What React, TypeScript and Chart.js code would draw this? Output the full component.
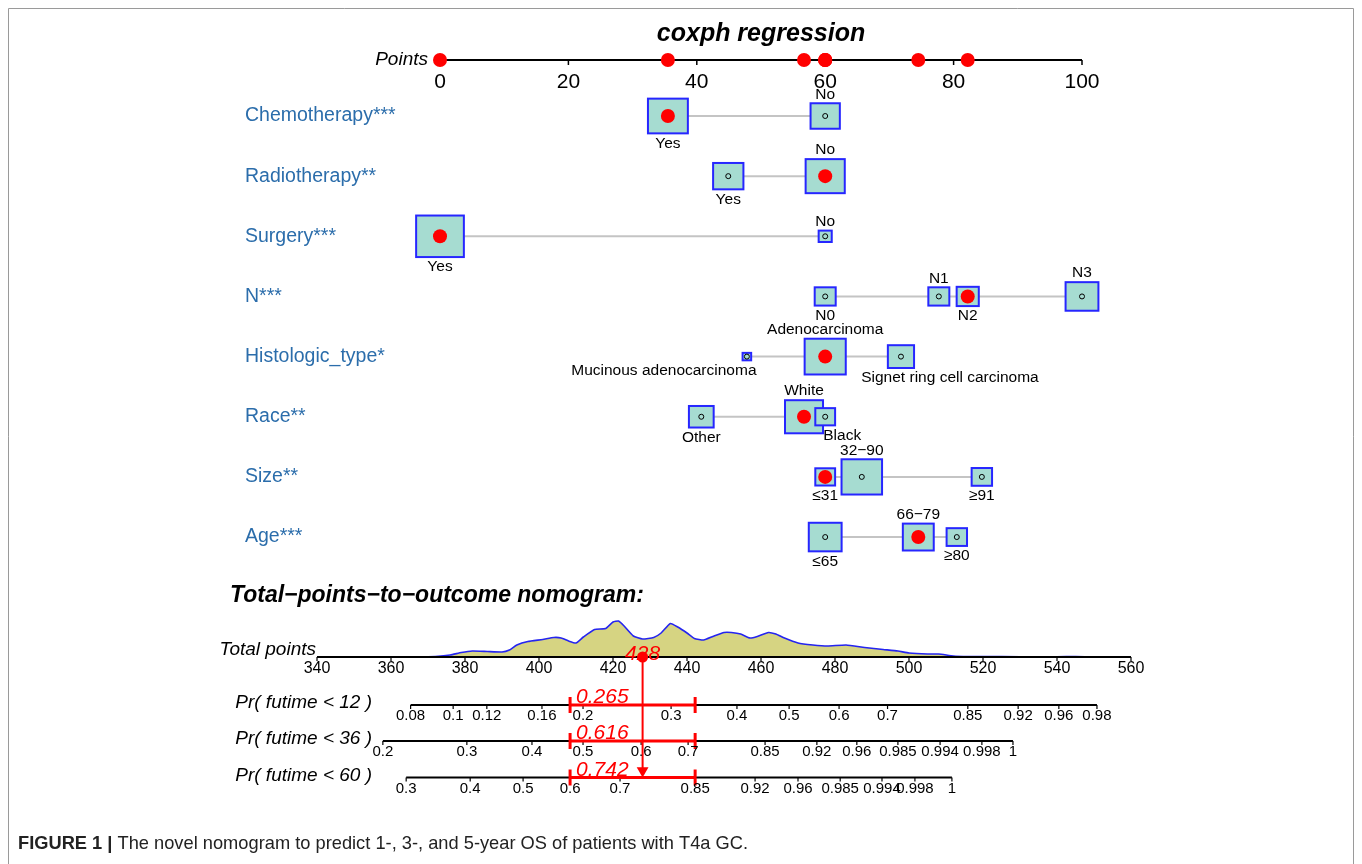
import React, { useEffect, useRef } from 'react';
import { Chart, registerables } from 'chart.js';

Chart.register(...registerables);

// ---------------- data ----------------
const TITLE = 'coxph regression';
const POINT_TICKS = [0, 20, 40, 60, 80, 100];

const VARIABLES = [
  'Chemotherapy***',
  'Radiotherapy**',
  'Surgery***',
  'N***',
  'Histologic_type*',
  'Race**',
  'Size**',
  'Age***',
];

const LEVEL_NAMES = [
  ['Yes', 'No'],
  ['Yes', 'No'],
  ['Yes', 'No'],
  ['N0', 'N1', 'N2', 'N3'],
  ['Mucinous adenocarcinoma', 'Adenocarcinoma', 'Signet ring cell carcinoma'],
  ['Other', 'White', 'Black'],
  ['≤31', '32−90', '≥91'],
  ['≤65', '66−79', '≥80'],
];

const LEVEL_POINTS = [
  [35.5, 60],
  [44.9, 60],
  [0, 60],
  [60, 77.7, 82.2, 100],
  [47.8, 60, 71.8],
  [40.7, 56.7, 60],
  [60, 65.7, 84.4],
  [60, 74.5, 80.5],
];

// relative frequency of each level (box area)
const LEVEL_FREQ = [
  [0.65, 0.35],
  [0.375, 0.625],
  [0.93, 0.07],
  [0.18, 0.18, 0.2, 0.44],
  [0.03, 0.69, 0.28],
  [0.25, 0.59, 0.16],
  [0.16, 0.67, 0.17],
  [0.44, 0.39, 0.17],
];

// observed level for the plotted patient
const SELECTED = [0, 1, 0, 2, 1, 1, 0, 1];

const SECTION_TITLE = 'Total−points−to−outcome nomogram:';
const TOTAL_TICKS = [340, 360, 380, 400, 420, 440, 460, 480, 500, 520, 540, 560];
const TOTAL_SCORE = 428;
const CI_LOW = 408.4;
const CI_HIGH = 442.2;

const DENSITY_X = [340, 368, 372, 376, 379, 382, 386, 390, 392, 394, 397, 401, 404, 406, 408, 410, 412, 415, 418, 420, 421.5, 423, 425.5, 428, 431, 433, 435.5, 437.5, 440, 442, 444.5, 447, 450, 452, 454.5, 457, 459, 462, 464, 466, 470, 474, 478, 483, 488, 493, 497, 500, 505, 508, 512, 516, 520, 530, 540, 545, 550, 555, 560];
const DENSITY_Y = [0, 0, 0.5, 2, 4.5, 6, 5.5, 5, 7, 12, 15.5, 17.5, 19.5, 19, 16, 14, 20, 27.5, 28.5, 35, 36, 31, 21, 18, 19.5, 24, 33.5, 30, 24, 18.5, 17, 20.5, 24.5, 24.5, 23, 19, 20.5, 24.5, 23, 19.5, 14, 12, 11, 12, 9.5, 7.5, 6, 4, 3, 3, 1, 0.5, 0.5, 0.3, 0.2, 0.5, 0.1, 0, 0];

const OUTCOMES = ['Pr( futime < 12 )', 'Pr( futime < 36 )', 'Pr( futime < 60 )'];
const PREDICTIONS = ['0.265', '0.616', '0.742'];

const PR12_LABELS = ['0.08', '0.1', '0.12', '0.16', '0.2', '0.3', '0.4', '0.5', '0.6', '0.7', '0.85', '0.92', '0.96', '0.98'];
const PR12_AT = [365.3, 376.8, 385.9, 400.8, 411.9, 435.7, 453.5, 467.6, 481.1, 494.2, 515.9, 529.5, 540.5, 550.8];
const PR36_LABELS = ['0.2', '0.3', '0.4', '0.5', '0.6', '0.7', '0.85', '0.92', '0.96', '0.985', '0.994', '0.998', '1'];
const PR36_AT = [357.8, 380.5, 398.1, 411.9, 427.6, 440.3, 461.1, 475.1, 485.9, 497.0, 508.4, 519.7, 528.1];
const PR60_LABELS = ['0.3', '0.4', '0.5', '0.6', '0.7', '0.85', '0.92', '0.96', '0.985', '0.994', '0.998', '1'];
const PR60_AT = [364.1, 381.4, 395.7, 408.4, 421.9, 442.2, 458.4, 470.0, 481.4, 492.7, 501.6, 511.6];

const CAPTION_BOLD = 'FIGURE 1 |';
const CAPTION_TEXT = ' The novel nomogram to predict 1-, 3-, and 5-year OS of patients with T4a GC.';

// ---------------- layout / style ----------------
const W = 1362;
const H = 864;
const FONT = "'Liberation Sans', Arial, Helvetica, sans-serif";
const RED = '#ff0000';
const BOX_FILL = '#a6dcd1';
const BOX_EDGE = '#2626ff';
const ROW_LABEL_COLOR = '#2b6dab';
const LINK_COLOR = '#c4c4c4';
const FRAME_COLOR = '#9a9a9a';
const DENS_FILL = '#d6d482';
const DENS_LINE = '#2424f0';

const PTS_PX0 = 440; // pixel of 0 points
const PTS_PX1 = 1082; // pixel of 100 points
const TOT_PX0 = 317; // pixel of 340 total points
const TOT_PX1 = 1131; // pixel of 560 total points

const POINTS_Y = 60;
const ROW0_Y = 116;
const ROW_STEP = 60.15;
const TOTAL_Y = 657;
const PR_Y = [705, 741, 777.5];
const BOX_K = 49.5;
const BOX_ASPECT = 0.87;
const ARROW_R = 6.8;

// label placement per level: side and horizontal shift (px)
const LABEL_SIDE = [
  ['below', 'above'],
  ['below', 'above'],
  ['below', 'above'],
  ['below', 'above', 'below', 'above'],
  ['below', 'above', 'below'],
  ['below', 'above', 'below'],
  ['below', 'above', 'below'],
  ['below', 'above', 'below'],
];
const LABEL_DX = [
  [0, 0],
  [0, 0],
  [0, 0],
  [0, 0, 0, 0],
  [-83, 0, 49],
  [0, 0, 17],
  [0, 0, 0],
  [0, 0, 0],
];

function rangeFor(px0: number, v0: number, px1: number, v1: number, total: number) {
  const ppu = (px1 - px0) / (v1 - v0);
  const min = v0 - px0 / ppu;
  return { min, max: min + total / ppu };
}

const rowY = (i: number) => ROW0_Y + i * ROW_STEP;

function line(ctx: CanvasRenderingContext2D, x0: number, y0: number, x1: number, y1: number) {
  ctx.beginPath();
  ctx.moveTo(x0, y0);
  ctx.lineTo(x1, y1);
  ctx.stroke();
}

function text(
  ctx: CanvasRenderingContext2D,
  s: string,
  x: number,
  y: number,
  font: string,
  color: string,
  align: CanvasTextAlign = 'center',
  baseline: CanvasTextBaseline = 'middle'
) {
  ctx.font = font;
  ctx.fillStyle = color;
  ctx.textAlign = align;
  ctx.textBaseline = baseline;
  ctx.fillText(s, x, y);
}

const PR_AT = [PR12_AT, PR36_AT, PR60_AT];
const PR_LABELS = [PR12_LABELS, PR36_LABELS, PR60_LABELS];

const nomogramPlugin = {
  id: 'nomogram',
  beforeDatasetsDraw(chart: any) {
    const ctx: CanvasRenderingContext2D = chart.ctx;
    const xP = chart.scales.xPts;
    const xT = chart.scales.xTot;
    const yR = chart.scales.yRow;
    ctx.save();
    ctx.lineCap = 'butt';

    // frame
    ctx.strokeStyle = FRAME_COLOR;
    ctx.lineWidth = 1;
    ctx.beginPath();
    ctx.moveTo(8.5, H);
    ctx.lineTo(8.5, 8.5);
    ctx.lineTo(1353.5, 8.5);
    ctx.lineTo(1353.5, H);
    ctx.stroke();

    // points axis
    const py = yR.getPixelForValue(POINTS_Y);
    ctx.strokeStyle = '#000';
    ctx.lineWidth = 2;
    line(ctx, xP.getPixelForValue(POINT_TICKS[0]), py, xP.getPixelForValue(POINT_TICKS[POINT_TICKS.length - 1]), py);
    ctx.lineWidth = 1.5;
    POINT_TICKS.forEach((t) => {
      const x = xP.getPixelForValue(t);
      line(ctx, x, py, x, py + 5);
    });

    // variable rows
    VARIABLES.forEach((_, i) => {
      const y = yR.getPixelForValue(rowY(i));
      const xs = LEVEL_POINTS[i].map((p) => xP.getPixelForValue(p));
      ctx.strokeStyle = LINK_COLOR;
      ctx.lineWidth = 2;
      line(ctx, Math.min(...xs), y, Math.max(...xs), y);
      xs.forEach((x, j) => {
        const w = Math.sqrt(LEVEL_FREQ[i][j]) * BOX_K;
        const h = w * BOX_ASPECT;
        ctx.fillStyle = BOX_FILL;
        ctx.fillRect(x - w / 2, y - h / 2, w, h);
        ctx.strokeStyle = BOX_EDGE;
        ctx.lineWidth = 2;
        ctx.strokeRect(x - w / 2, y - h / 2, w, h);
      });
    });

    // probability axes
    PR_AT.forEach((at, k) => {
      const y = yR.getPixelForValue(PR_Y[k]);
      ctx.strokeStyle = '#000';
      ctx.lineWidth = 2;
      line(ctx, xT.getPixelForValue(at[0]), y, xT.getPixelForValue(at[at.length - 1]), y);
      ctx.lineWidth = 1.2;
      at.forEach((v) => {
        const x = xT.getPixelForValue(v);
        line(ctx, x, y, x, y + 4);
      });
      // confidence bar
      const xl = xT.getPixelForValue(CI_LOW);
      const xh = xT.getPixelForValue(CI_HIGH);
      ctx.strokeStyle = RED;
      ctx.lineWidth = 3;
      line(ctx, xl, y, xh, y);
      line(ctx, xl, y - 8, xl, y + 8);
      line(ctx, xh, y - 8, xh, y + 8);
    });

    // red drop line
    const xs = xT.getPixelForValue(TOTAL_SCORE);
    ctx.strokeStyle = RED;
    ctx.lineWidth = 2;
    line(ctx, xs, yR.getPixelForValue(TOTAL_Y), xs, yR.getPixelForValue(PR_Y[2]) - ARROW_R * 1.2);
    ctx.restore();
  },
  afterDatasetDraw(chart: any, args: any) {
    if (args.meta.type !== 'line') return;
    const ctx: CanvasRenderingContext2D = chart.ctx;
    const xT = chart.scales.xTot;
    const y = chart.scales.yRow.getPixelForValue(TOTAL_Y);
    ctx.save();
    ctx.strokeStyle = '#000';
    ctx.lineWidth = 2;
    line(ctx, xT.getPixelForValue(TOTAL_TICKS[0]), y, xT.getPixelForValue(TOTAL_TICKS[TOTAL_TICKS.length - 1]), y);
    ctx.lineWidth = 1.2;
    TOTAL_TICKS.forEach((t) => {
      const x = xT.getPixelForValue(t);
      line(ctx, x, y, x, y + 4);
    });
    ctx.restore();
  },
  afterDatasetsDraw(chart: any) {
    const ctx: CanvasRenderingContext2D = chart.ctx;
    const xP = chart.scales.xPts;
    const xT = chart.scales.xTot;
    const yR = chart.scales.yRow;
    ctx.save();

    // top title & points axis
    text(ctx, TITLE, xP.getPixelForValue(50), 41, `italic bold 25px ${FONT}`, '#000', 'center', 'alphabetic');
    const py = yR.getPixelForValue(POINTS_Y);
    text(ctx, 'Points', xP.getPixelForValue(0) - 12, py, `italic 19px ${FONT}`, '#000', 'right');
    POINT_TICKS.forEach((t) => {
      text(ctx, String(t), xP.getPixelForValue(t), py + 22, `21px ${FONT}`, '#000');
    });

    // rows
    VARIABLES.forEach((name, i) => {
      const y = yR.getPixelForValue(rowY(i));
      text(ctx, name, 245, y, `19.5px ${FONT}`, ROW_LABEL_COLOR, 'left');
      LEVEL_NAMES[i].forEach((lab, j) => {
        const x = xP.getPixelForValue(LEVEL_POINTS[i][j]);
        const h = Math.sqrt(LEVEL_FREQ[i][j]) * BOX_K * BOX_ASPECT;
        const ty = LABEL_SIDE[i][j] === 'above' ? y - h / 2 - 9 : y + h / 2 + 10;
        text(ctx, lab, x + LABEL_DX[i][j], ty, `15.5px ${FONT}`, '#000');
      });
    });

    // total points section
    text(ctx, SECTION_TITLE, 230, 596, `italic bold 23px ${FONT}`, '#000', 'left');
    const ty = yR.getPixelForValue(TOTAL_Y);
    text(ctx, 'Total points', xT.getPixelForValue(TOTAL_TICKS[0]) - 1, ty - 7, `italic 19px ${FONT}`, '#000', 'right');
    TOTAL_TICKS.forEach((t) => {
      text(ctx, String(t), xT.getPixelForValue(t), ty + 12, `16px ${FONT}`, '#000');
    });
    text(ctx, String(TOTAL_SCORE), xT.getPixelForValue(TOTAL_SCORE), ty + 3, `italic 21px ${FONT}`, RED, 'center', 'alphabetic');

    OUTCOMES.forEach((lab, k) => {
      const y = yR.getPixelForValue(PR_Y[k]);
      text(ctx, lab, 372, y - 2, `italic 19px ${FONT}`, '#000', 'right');
      PR_LABELS[k].forEach((l, m) => {
        text(ctx, l, xT.getPixelForValue(PR_AT[k][m]), y + 11, `15px ${FONT}`, '#000');
      });
      text(ctx, PREDICTIONS[k], xT.getPixelForValue(CI_LOW) + 6, y - 2, `italic 21px ${FONT}`, RED, 'left', 'alphabetic');
    });

    // caption (condensed to the reference width)
    ctx.font = `bold 19px ${FONT}`;
    const w1 = ctx.measureText(CAPTION_BOLD).width;
    ctx.font = `19px ${FONT}`;
    const w2 = ctx.measureText(CAPTION_TEXT).width;
    const sx = 730 / (w1 + w2);
    ctx.translate(18, 844);
    ctx.scale(sx, 1);
    text(ctx, CAPTION_BOLD, 0, 0, `bold 19px ${FONT}`, '#222', 'left');
    text(ctx, CAPTION_TEXT, w1, 0, `19px ${FONT}`, '#222', 'left');
    ctx.restore();
  },
};

export default function App() {
  const ref = useRef<HTMLCanvasElement>(null);

  useEffect(() => {
    const canvas = ref.current;
    if (!canvas) return;
    const xPts = rangeFor(PTS_PX0, 0, PTS_PX1, 100, W);
    const xTot = rangeFor(TOT_PX0, TOTAL_TICKS[0], TOT_PX1, TOTAL_TICKS[TOTAL_TICKS.length - 1], W);
    // density: 1 unit = 1px, baseline at TOTAL_Y
    const dMin = -(H - TOTAL_Y);
    const dMax = dMin + H;

    const others: { x: number; y: number }[] = [];
    const chosen: { x: number; y: number }[] = [];
    LEVEL_POINTS.forEach((pts, i) => {
      pts.forEach((p, j) => {
        if (j === SELECTED[i]) chosen.push({ x: p, y: rowY(i) });
        else others.push({ x: p, y: rowY(i) });
      });
    });
    const axisDots = LEVEL_POINTS.map((pts, i) => ({ x: pts[SELECTED[i]], y: POINTS_Y }));

    const chart = new Chart(canvas, {
      type: 'scatter',
      data: {
        datasets: [
          {
            data: others,
            xAxisID: 'xPts',
            yAxisID: 'yRow',
            pointRadius: 2.5,
            pointBackgroundColor: BOX_FILL,
            pointBorderColor: '#000',
            pointBorderWidth: 1,
            order: 1,
          },
          {
            data: chosen,
            xAxisID: 'xPts',
            yAxisID: 'yRow',
            pointRadius: 7,
            pointBackgroundColor: RED,
            pointBorderColor: RED,
            pointBorderWidth: 0,
            order: 1,
          },
          {
            data: axisDots,
            xAxisID: 'xPts',
            yAxisID: 'yRow',
            pointRadius: 7,
            pointBackgroundColor: RED,
            pointBorderColor: RED,
            pointBorderWidth: 0,
            order: 1,
          },
          {
            data: [{ x: TOTAL_SCORE, y: TOTAL_Y }],
            xAxisID: 'xTot',
            yAxisID: 'yRow',
            pointRadius: 5.5,
            pointBackgroundColor: RED,
            pointBorderColor: RED,
            pointBorderWidth: 0,
            order: 1,
          },
          {
            data: [{ x: TOTAL_SCORE, y: PR_Y[2] - ARROW_R }],
            xAxisID: 'xTot',
            yAxisID: 'yRow',
            pointStyle: 'triangle',
            rotation: 180,
            pointRadius: ARROW_R,
            pointBackgroundColor: RED,
            pointBorderColor: RED,
            pointBorderWidth: 0,
            order: 1,
          },
          {
            type: 'line',
            data: DENSITY_X.map((x, i) => ({ x, y: DENSITY_Y[i] })),
            xAxisID: 'xTot',
            yAxisID: 'yDens',
            borderColor: DENS_LINE,
            borderWidth: 1.6,
            backgroundColor: DENS_FILL,
            fill: 'origin',
            pointRadius: 0,
            tension: 0.15,
            order: 10,
          } as any,
        ],
      },
      options: {
        responsive: false,
        animation: false,
        devicePixelRatio: 1,
        events: [],
        layout: { padding: 0, autoPadding: false } as any,
        plugins: { legend: { display: false }, tooltip: { enabled: false } },
        scales: {
          xPts: { type: 'linear', axis: 'x', display: false, min: xPts.min, max: xPts.max },
          xTot: { type: 'linear', axis: 'x', display: false, min: xTot.min, max: xTot.max },
          yRow: { type: 'linear', axis: 'y', display: false, min: 0, max: H, reverse: true },
          yDens: { type: 'linear', axis: 'y', display: false, min: dMin, max: dMax },
        } as any,
      },
      plugins: [nomogramPlugin],
    });
    return () => chart.destroy();
  }, []);

  return (
    <div style={{ position: 'fixed', left: 0, top: 0, width: W, height: H, background: '#fff' }}>
      <canvas ref={ref} width={W} height={H} style={{ display: 'block', width: W, height: H }} />
    </div>
  );
}
